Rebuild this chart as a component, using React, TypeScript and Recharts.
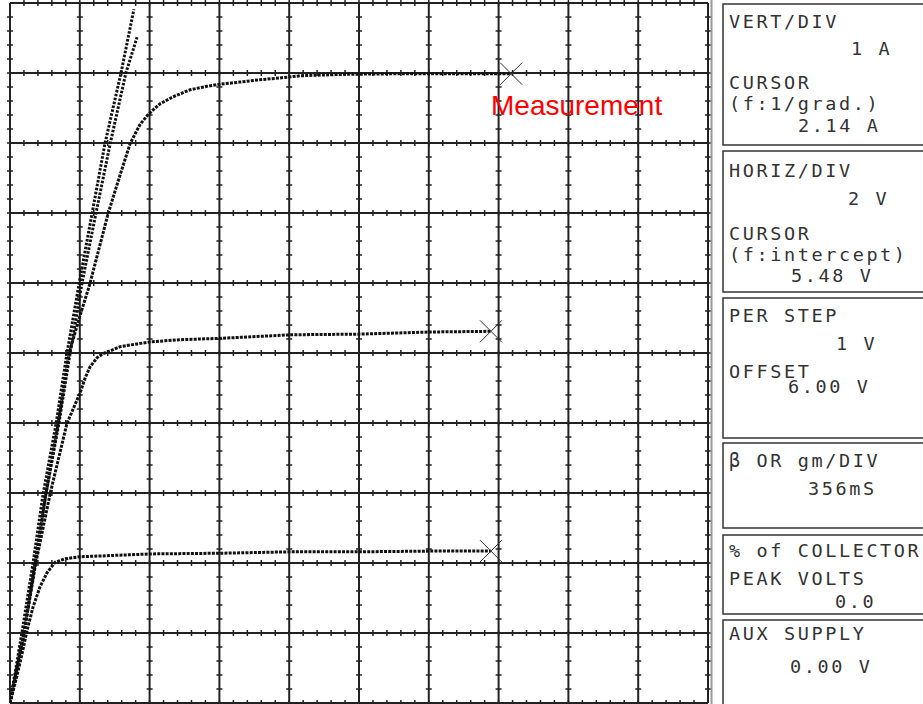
import { ComposedChart, Line, Scatter, XAxis, YAxis, CartesianGrid } from 'recharts';

// curve tracer screen: 2 V/div horizontal, 1 A/div vertical
const X_TICKS = [0, 2, 4, 6, 8, 10, 12, 14, 16, 18, 20];
const Y_TICKS = [0, 1, 2, 3, 4, 5, 6, 7, 8, 9, 10];

// steep saturation traces near the origin
const steepA = [
  { v: 0, i: 0 }, { v: 0.34, i: 1.0 }, { v: 0.66, i: 2.0 }, { v: 0.95, i: 2.99 },
  { v: 1.32, i: 3.99 }, { v: 1.63, i: 4.99 }, { v: 1.98, i: 5.99 }, { v: 2.35, i: 6.99 },
  { v: 2.72, i: 7.99 }, { v: 3.18, i: 9.0 }, { v: 3.55, i: 9.91 },
];
const steepB = [
  { v: 0, i: 0 }, { v: 0.4, i: 1.0 }, { v: 0.72, i: 2.0 }, { v: 1.03, i: 2.99 },
  { v: 1.4, i: 3.99 }, { v: 1.72, i: 4.99 }, { v: 2.06, i: 5.99 }, { v: 2.46, i: 6.99 },
  { v: 2.87, i: 7.99 }, { v: 3.32, i: 9.0 }, { v: 3.64, i: 9.51 },
];

// step curves
const topCurve = [
  { v: 0, i: 0 }, { v: 0.4, i: 1.0 }, { v: 0.72, i: 2.0 }, { v: 1.03, i: 2.99 },
  { v: 1.38, i: 3.99 }, { v: 1.69, i: 4.99 }, { v: 1.98, i: 5.49 }, { v: 2.29, i: 5.99 },
  { v: 2.55, i: 6.49 }, { v: 2.81, i: 6.99 }, { v: 3.12, i: 7.49 }, { v: 3.44, i: 7.99 },
  { v: 3.72, i: 8.26 }, { v: 3.93, i: 8.39 }, { v: 4.07, i: 8.46 }, { v: 4.3, i: 8.56 },
  { v: 4.67, i: 8.66 }, { v: 5.16, i: 8.76 }, { v: 5.64, i: 8.81 }, { v: 6.02, i: 8.84 },
  { v: 6.59, i: 8.87 }, { v: 7.08, i: 8.9 }, { v: 7.74, i: 8.93 }, { v: 8.31, i: 8.96 },
  { v: 9.46, i: 8.98 }, { v: 11.17, i: 8.99 }, { v: 12.61, i: 8.99 }, { v: 14.36, i: 8.99 },
];
const midCurve = [
  { v: 0, i: 0 }, { v: 0.4, i: 1.0 }, { v: 0.74, i: 2.0 }, { v: 1.15, i: 2.99 },
  { v: 1.38, i: 3.47 }, { v: 1.63, i: 3.99 }, { v: 1.86, i: 4.26 }, { v: 2.01, i: 4.43 },
  { v: 2.15, i: 4.64 }, { v: 2.29, i: 4.8 }, { v: 2.49, i: 4.93 }, { v: 2.66, i: 4.99 },
  { v: 2.92, i: 5.04 }, { v: 3.15, i: 5.09 }, { v: 3.64, i: 5.13 }, { v: 4.04, i: 5.16 },
  { v: 4.87, i: 5.19 }, { v: 6.05, i: 5.21 }, { v: 8.05, i: 5.26 }, { v: 10.03, i: 5.27 },
  { v: 12.03, i: 5.3 }, { v: 13.78, i: 5.31 },
];
const lowCurve = [
  { v: 0, i: 0 }, { v: 0.17, i: 0.33 }, { v: 0.34, i: 0.69 }, { v: 0.49, i: 1.04 },
  { v: 0.66, i: 1.37 }, { v: 0.86, i: 1.66 }, { v: 1.06, i: 1.86 }, { v: 1.29, i: 2.01 },
  { v: 1.58, i: 2.06 }, { v: 2.01, i: 2.09 }, { v: 2.58, i: 2.1 }, { v: 4.04, i: 2.13 },
  { v: 6.05, i: 2.14 }, { v: 8.05, i: 2.16 }, { v: 10.03, i: 2.16 }, { v: 12.03, i: 2.17 },
  { v: 13.78, i: 2.17 },
];

// end-of-sweep markers
const sweepEnds = [
  { v: 14.36, i: 8.99 },
  { v: 13.78, i: 5.31 },
  { v: 13.78, i: 2.17 },
];

// readout panel text: [text, x, baseline]
const readouts: [string, number, number][] = [
  ['VERT/DIV', 729, 28], ['1 A', 851, 55], ['CURSOR', 729, 89], ['(f:1/grad.)', 729, 110], ['2.14 A', 798, 132],
  ['HORIZ/DIV', 729, 177], ['2 V', 848, 205], ['CURSOR', 729, 240], ['(f:intercept)', 729, 261], ['5.48 V', 791, 282],
  ['PER STEP', 729, 322], ['1 V', 836, 350], ['OFFSET', 729, 378], ['6.00 V', 788, 393],
  ['β OR gm/DIV', 729, 467], ['356mS', 808, 495],
  ['% of COLLECTOR', 729, 557], ['PEAK VOLTS', 729, 585], ['0.0', 835, 608],
  ['AUX SUPPLY', 729, 640], ['0.00 V', 790, 673],
];
const boxes: [number, number][] = [[4, 145], [151, 292], [298, 438], [443, 528], [535, 614], [620, 710]];

const INK = '#222';
const MINOR = 50;

function HLine(p: any) {
  const { x1, x2, y1 } = p;
  const step = (x2 - x1) / MINOR;
  const marks = [];
  for (let k = 1; k < MINOR; k++) {
    const x = x1 + k * step;
    marks.push(<line key={k} x1={x} x2={x} y1={y1 - 3} y2={y1 + 3} />);
  }
  return (
    <g key={p.key} stroke={INK} strokeWidth={1.5}>
      <line x1={x1} x2={x2} y1={y1} y2={y1} strokeWidth={2} />
      {marks}
    </g>
  );
}

function VLine(p: any) {
  const { y1, y2, x1 } = p;
  const step = (y2 - y1) / MINOR;
  const marks = [];
  for (let k = 1; k < MINOR; k++) {
    const y = y1 + k * step;
    marks.push(<line key={k} x1={x1 - 3} x2={x1 + 3} y1={y} y2={y} />);
  }
  return (
    <g key={p.key} stroke={INK} strokeWidth={1.5}>
      <line x1={x1} x2={x1} y1={y1} y2={y2} strokeWidth={2} />
      {marks}
    </g>
  );
}

function Cross(p: any) {
  const { cx, cy } = p;
  const r = 11;
  return (
    <g stroke="#333" strokeWidth={1}>
      <line x1={cx - r} y1={cy - r} x2={cx + r} y2={cy + r} />
      <line x1={cx - r} y1={cy + r} x2={cx + r} y2={cy - r} />
    </g>
  );
}

const trace = { stroke: '#111', strokeWidth: 3, dot: false, isAnimationActive: false, type: 'linear' as const };

export default function App() {
  return (
    <div style={{ position: 'absolute', left: 0, top: 0, width: 923, height: 704, overflow: 'hidden', background: '#fff' }}>
      <ComposedChart width={712} height={706} margin={{ top: 3, right: 4, bottom: 3, left: 10 }}>
        <XAxis type="number" dataKey="v" domain={[0, 20]} ticks={X_TICKS} interval={0} hide allowDataOverflow />
        <YAxis type="number" dataKey="i" domain={[0, 10]} ticks={Y_TICKS} interval={0} hide allowDataOverflow />
        <CartesianGrid horizontal={HLine} vertical={VLine} />
        <Line data={steepA} dataKey="i" {...trace} strokeDasharray="2.5 1.5" />
        <Line data={steepB} dataKey="i" {...trace} strokeDasharray="2.5 1.5" />
        <Line data={topCurve} dataKey="i" {...trace} strokeDasharray="3 1.2" />
        <Line data={midCurve} dataKey="i" {...trace} strokeDasharray="3 1.2" />
        <Line data={lowCurve} dataKey="i" {...trace} strokeDasharray="3 1.2" />
        <Scatter data={sweepEnds} dataKey="i" shape={Cross} isAnimationActive={false} />
      </ComposedChart>
      <svg width={923} height={704} style={{ position: 'absolute', left: 0, top: 0, pointerEvents: 'none' }}>
        <line x1={711.5} x2={711.5} y1={0} y2={704} stroke="#999" strokeWidth={2} />
        {boxes.map(([t, b], k) => (
          <rect key={k} x={723} y={t} width={240} height={b - t} fill="none" stroke="#333" strokeWidth={1.5} />
        ))}
        {readouts.map(([s, x, y], k) => (
          <text key={k} x={x} y={y} fontFamily="DejaVu Sans Mono" fontSize={18.5} letterSpacing={2.6} fill="#333" style={{ whiteSpace: 'pre' }}>
            {s}
          </text>
        ))}
        <text x={491} y={115} fontFamily="Liberation Sans, Arial" fontSize={28} fill="#ff0000">Measurement</text>
      </svg>
    </div>
  );
}
